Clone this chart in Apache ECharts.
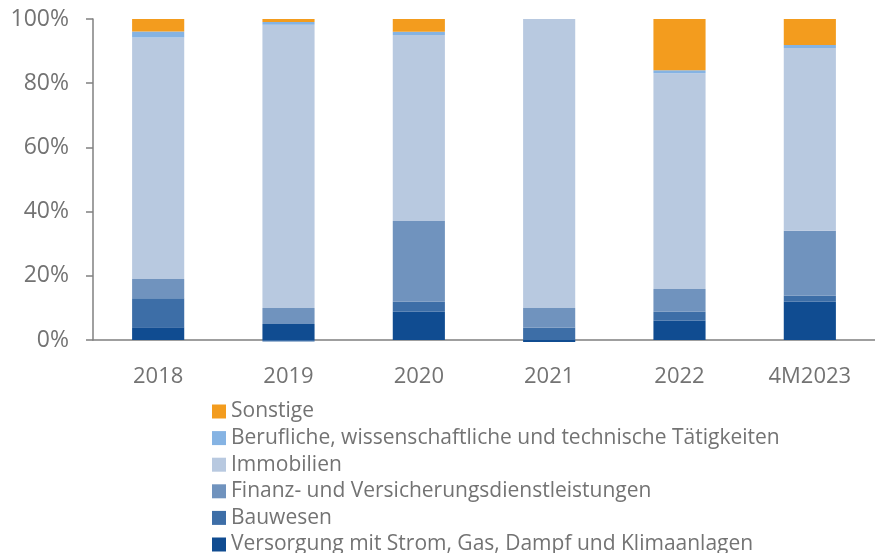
<!DOCTYPE html>
<html>
<head>
<meta charset="utf-8">
<script src="https://cdn.jsdelivr.net/npm/echarts@6/dist/echarts.min.js"></script>
<style>
	html, body { margin: 0; padding: 0; background: #fff; }
	#chart { width: 875px; height: 553px; }
</style>
</head>
<body>
<div id="chart"></div>
<script>
	// categories (x axis)
	var years = ['2018', '2019', '2020', '2021', '2022', '4M2023'];

	// shares in percent
	var versorgung = [4, 5, 8.8, -0.6, 6, 11.9];
	var bauwesen = [9, -0.5, 3.1, 3.8, 2.8, 1.9];
	var finanz = [6, 5, 25.2, 6.2, 7.1, 20.2];
	var immobilien = [75.2, 88.2, 57.9, 90, 67.2, 57];
	var berufliche = [1.9, 0.9, 1, 0, 0.9, 0.9];
	var sonstige = [3.9, 0.9, 4, 0, 16, 8.1];

	var yTicks = [0, 20, 40, 60, 80, 100];

	var names = [
		'Versorgung mit Strom, Gas, Dampf und Klimaanlagen',
		'Bauwesen',
		'Finanz- und Versicherungsdienstleistungen',
		'Immobilien',
		'Berufliche, wissenschaftliche und technische Tätigkeiten',
		'Sonstige'
	];
	var values = [versorgung, bauwesen, finanz, immobilien, berufliche, sonstige];
	var colors = ['#104C91', '#3D6EA7', '#7093BE', '#B8C9E0', '#85B3E3', '#F39C1E'];

	var font = '"Open Sans", sans-serif';
	var grey = '#737373';

	var series = names.map(function(n, i) {
		return {
			name: n,
			type: 'bar',
			stack: 'total',
			clip: false,
			barCategoryGap: '60%',
			itemStyle: { color: colors[i] },
			data: values[i]
		};
	});

	var myChart = echarts.init(document.getElementById('chart'));
	var option = {
		animation: false,
		color: colors,
		grid: { left: 93, right: 0, top: 19, bottom: 213 },
		legend: {
			orient: 'vertical',
			left: 212,
			top: 401,
			padding: 0,
			height: 160,
			itemWidth: 14,
			itemHeight: 14,
			itemGap: 5.6,
			icon: 'rect',
			data: names.slice().reverse(),
			textStyle: { fontFamily: font, fontSize: 21, color: grey, lineHeight: 20 }
		},
		xAxis: {
			type: 'category',
			data: years,
			axisLine: { lineStyle: { color: '#808080', width: 1.5 } },
			axisTick: { length: 8, lineStyle: { color: '#808080', width: 1.5 } },
			axisLabel: { fontFamily: font, fontSize: 22, color: grey, margin: 26 }
		},
		yAxis: {
			type: 'value',
			min: yTicks[0],
			max: yTicks[yTicks.length - 1],
			interval: 20,
			splitLine: { show: false },
			axisLine: { show: true, lineStyle: { color: '#808080', width: 1.5 } },
			axisTick: { show: true, length: 7, lineStyle: { color: '#808080', width: 1.5 } },
			axisLabel: { fontFamily: font, fontSize: 23, color: grey, margin: 24, formatter: '{value}%' }
		},
		series: series
	};
	myChart.setOption(option);
</script>
</body>
</html>
